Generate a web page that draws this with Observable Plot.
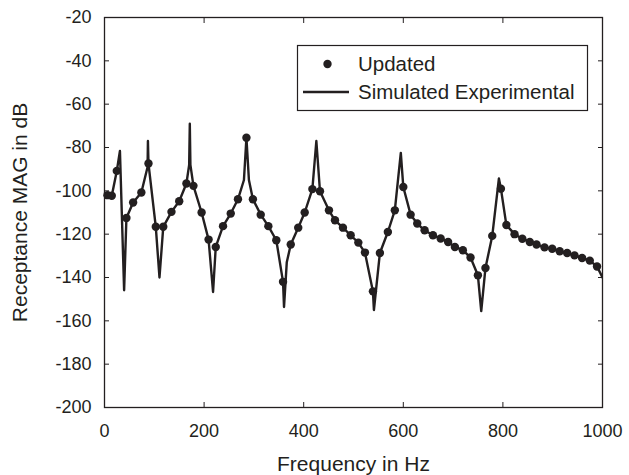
<!DOCTYPE html>
<html>
<head>
<meta charset="utf-8">
<script src="https://cdn.jsdelivr.net/npm/d3@7"></script>
<script src="https://cdn.jsdelivr.net/npm/@observablehq/plot@0.6"></script>
<style>
  html, body { margin: 0; padding: 0; background: #fff; }
  #chart svg { display: block; }
</style>
</head>
<body>
<div id="chart"></div>
<script>
// Simulated Experimental (line)
const expFreq = [0,6,14.6,24.7,31,39.4,44,57.5,74,86.5,87.2,88.3,103,110.4,118,134.5,150,164.5,170,171.3,172.5,178.6,195,209,218,223.4,238,253.5,268,280,285,290,298,313.7,329,345,358.5,360.5,366,374,389,402,417.4,425.4,432.7,450.7,462.8,478.8,494.3,509.7,523,539,541,553,569,583,595,600,614.7,628,642.8,659.5,675,690,703.6,719.6,735,749.8,756.5,765,778.6,792,796,807,823.4,839,854,867.5,883.6,899,914,929,943.8,959,974.5,989,1000];
const expMag = [-102,-102,-102.3,-90.8,-81.6,-145.9,-112.5,-105.4,-100.8,-89,-77,-87.4,-116.6,-140,-116.6,-109.7,-104.8,-96.6,-88,-69,-88,-97.7,-110,-122.5,-146.7,-125.9,-116.3,-110.5,-103.9,-95,-75.5,-95,-103.9,-111,-116.3,-122.8,-142,-153.6,-133,-124.8,-117,-110,-99.2,-77,-100.2,-109,-113.6,-117,-120.5,-123.9,-128.5,-146.4,-155,-128.7,-119,-109,-82.5,-98.2,-111,-115.1,-118.2,-120.5,-122,-123.6,-125.9,-127.4,-130.8,-139,-155.5,-135.6,-120.8,-94.3,-99,-115.8,-120,-122.1,-123.6,-124.8,-126.1,-126.7,-127.9,-128.7,-129.8,-131,-132.2,-134.9,-140];

// Updated (points)
const updFreq = [6,14.6,24.7,44,57.5,74,88.3,103,118,134.5,150,164.5,178.6,195,209,223.4,238,253.5,268,285,298,313.7,329,345,358.5,374,389,402,417.4,432.7,450.7,462.8,478.8,494.3,509.7,523,539,553,569,583,600,614.7,628,642.8,659.5,675,690,703.6,719.6,735,749.8,765,778.6,796,807,823.4,839,854,867.5,883.6,899,914,929,943.8,959,974.5,989];
const updMag = [-102,-102.3,-90.8,-112.5,-105.4,-100.8,-87.4,-116.6,-116.6,-109.7,-104.8,-96.6,-97.7,-110,-122.5,-125.9,-116.3,-110.5,-103.9,-75.5,-103.9,-111,-116.3,-122.8,-142,-124.8,-117,-110,-99.2,-100.2,-109,-113.6,-117,-120.5,-123.9,-128.5,-146.4,-128.7,-119,-109,-98.2,-111,-115.1,-118.2,-120.5,-122,-123.6,-125.9,-127.4,-130.8,-139,-135.6,-120.8,-99,-115.8,-120,-122.1,-123.6,-124.8,-126.1,-126.7,-127.9,-128.7,-129.8,-131,-132.2,-134.9];

const xTicks = [0,200,400,600,800,1000];
const yTicks = [-200,-180,-160,-140,-120,-100,-80,-60,-40,-20];
const seriesNames = ["Updated", "Simulated Experimental"];
const xLabel = "Frequency in Hz";
const yLabel = "Receptance MAG in dB";

const ink = "#231f20";
const font = "'Liberation Sans', Arial, sans-serif";
const expData = expFreq.map((f, i) => ({f, m: expMag[i]}));
const updData = updFreq.map((f, i) => ({f, m: updMag[i]}));
const plain = d => String(d);

const chart = Plot.plot({
  width: 629,
  height: 475,
  marginLeft: 104,
  marginRight: 27,
  marginTop: 17,
  marginBottom: 68,
  style: {fontFamily: font, fontSize: "18px", color: ink, background: "#fff"},
  x: {domain: [0, 1000]},
  y: {domain: [-200, -20]},
  marks: [
    Plot.line(expData, {x: "f", y: "m", stroke: ink, strokeWidth: 2.4, clip: true}),
    Plot.dot(updData, {x: "f", y: "m", r: 4.2, fill: ink, stroke: "none"}),
    Plot.frame({stroke: ink, strokeWidth: 1.3}),
    Plot.axisX({ticks: xTicks, tickSize: -5, tickPadding: 22, tickFormat: plain, stroke: ink, fill: ink, fontSize: 18,
      label: null}),
    Plot.axisX({ticks: [], label: xLabel, labelAnchor: "center", labelArrow: "none", labelOffset: 63, fontSize: 21, fill: ink}),
    Plot.axisX({anchor: "top", ticks: xTicks, tickSize: -5, tickFormat: () => "", label: null, stroke: ink}),
    Plot.axisY({ticks: yTicks, tickSize: -5, tickPadding: 18, tickFormat: plain, stroke: ink, fill: ink, fontSize: 18,
      label: null}),
    Plot.axisY({ticks: [], label: yLabel, labelAnchor: "center", labelArrow: "none", labelOffset: 92, fontSize: 21, fill: ink}),
    Plot.axisY({anchor: "right", ticks: yTicks, tickSize: -5, tickFormat: () => "", label: null, stroke: ink})
  ]
});

document.getElementById("chart").appendChild(chart);

// Legend inside plot area
const svg = d3.select(chart);
const g = svg.append("g").attr("class", "legend")
  .attr("font-family", font).attr("font-size", 20.5).attr("fill", ink).attr("text-anchor", "start");
g.append("rect").attr("x", 297.5).attr("y", 45.5).attr("width", 290).attr("height", 65)
  .attr("fill", "#fff").attr("stroke", ink).attr("stroke-width", 1.2);
g.append("circle").attr("cx", 327.5).attr("cy", 64).attr("r", 4.2).attr("fill", ink);
g.append("text").attr("x", 358).attr("y", 64).attr("dy", "0.36em").text(seriesNames[0]);
g.append("line").attr("x1", 303).attr("x2", 349).attr("y1", 92).attr("y2", 92)
  .attr("stroke", ink).attr("stroke-width", 2.4);
g.append("text").attr("x", 358).attr("y", 92).attr("dy", "0.36em").text(seriesNames[1]);
</script>
</body>
</html>
